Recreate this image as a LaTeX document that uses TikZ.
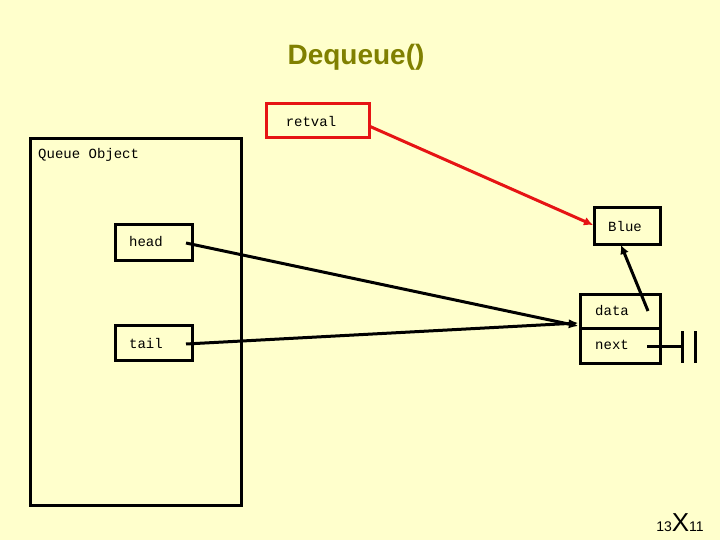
\documentclass[tikz,border=0pt]{standalone}
\usepackage{fontspec}
\setmainfont{Liberation Sans}
\setmonofont{Liberation Mono}
\usetikzlibrary{arrows.meta}
\definecolor{bg}{RGB}{255,255,204}
\definecolor{olive}{RGB}{128,128,0}
\definecolor{rd}{RGB}{230,20,20}
\begin{document}
\begin{tikzpicture}[x=1pt,y=-1pt,
  box/.style={draw=black,line width=3pt,fill=bg},
  lbl/.style={font=\ttfamily\fontsize{14}{16}\selectfont,inner sep=0pt},
  ptr/.style={line width=3pt,-{Latex[length=9pt,width=9pt]}}]
\fill[bg] (0,0) rectangle (720,540);
\useasboundingbox (0,0) rectangle (720,540);
\node[font=\bfseries\fontsize{28}{32}\selectfont,text=olive] (title) at (356,57) {Dequeue()};
\draw[box] (30,139) rectangle (241,505);
\node[lbl,anchor=west] (qo) at (38,155) {Queue Object};
\draw[box,draw=rd] (266,104) rectangle (369,138);
\node[lbl] (retval) at (311,121) {retval};
\draw[box] (115,225) rectangle (192,260);
\node[lbl] (head) at (146,242) {head};
\draw[box] (115,325) rectangle (192,360);
\node[lbl] (tail) at (146,343) {tail};
\draw[box] (594,208) rectangle (660,244);
\node[lbl] (blue) at (625,226) {Blue};
\draw[box] (580,294) rectangle (660,328);
\node[lbl] (data) at (612,311) {data};
\draw[box] (580,328) rectangle (660,363);
\node[lbl] (next) at (612,345) {next};
\coordinate (hd) at (186,243);
\coordinate (td) at (186,344);
\coordinate (dd) at (648,311);
\coordinate (nd) at (647,346);
\coordinate (bb) at (621,245);
\coordinate (bl) at (593,225);
\coordinate (rr) at (369,126);
\coordinate (ne) at (578,326);
\coordinate (ne2) at (578,323);
\draw[ptr,draw=rd,-{Latex[length=9pt,width=9pt]},rd] (rr) -- (bl);
\draw[ptr] (hd) -- (ne);
\draw[ptr] (td) -- (ne2);
\draw[ptr] (dd) -- (bb);
\coordinate (g1) at (682,346);
\draw[line width=3pt] (nd) -- (g1);
\draw[line width=3pt] (682,331) -- (682,363) (695,331) -- (695,363);
\node[font=\fontsize{16}{18}\selectfont,anchor=base] (pg) at (680,531) {\fontsize{14}{16}\selectfont 13\fontsize{26}{28}\selectfont X\fontsize{14}{16}\selectfont 11};
\end{tikzpicture}
\end{document}
